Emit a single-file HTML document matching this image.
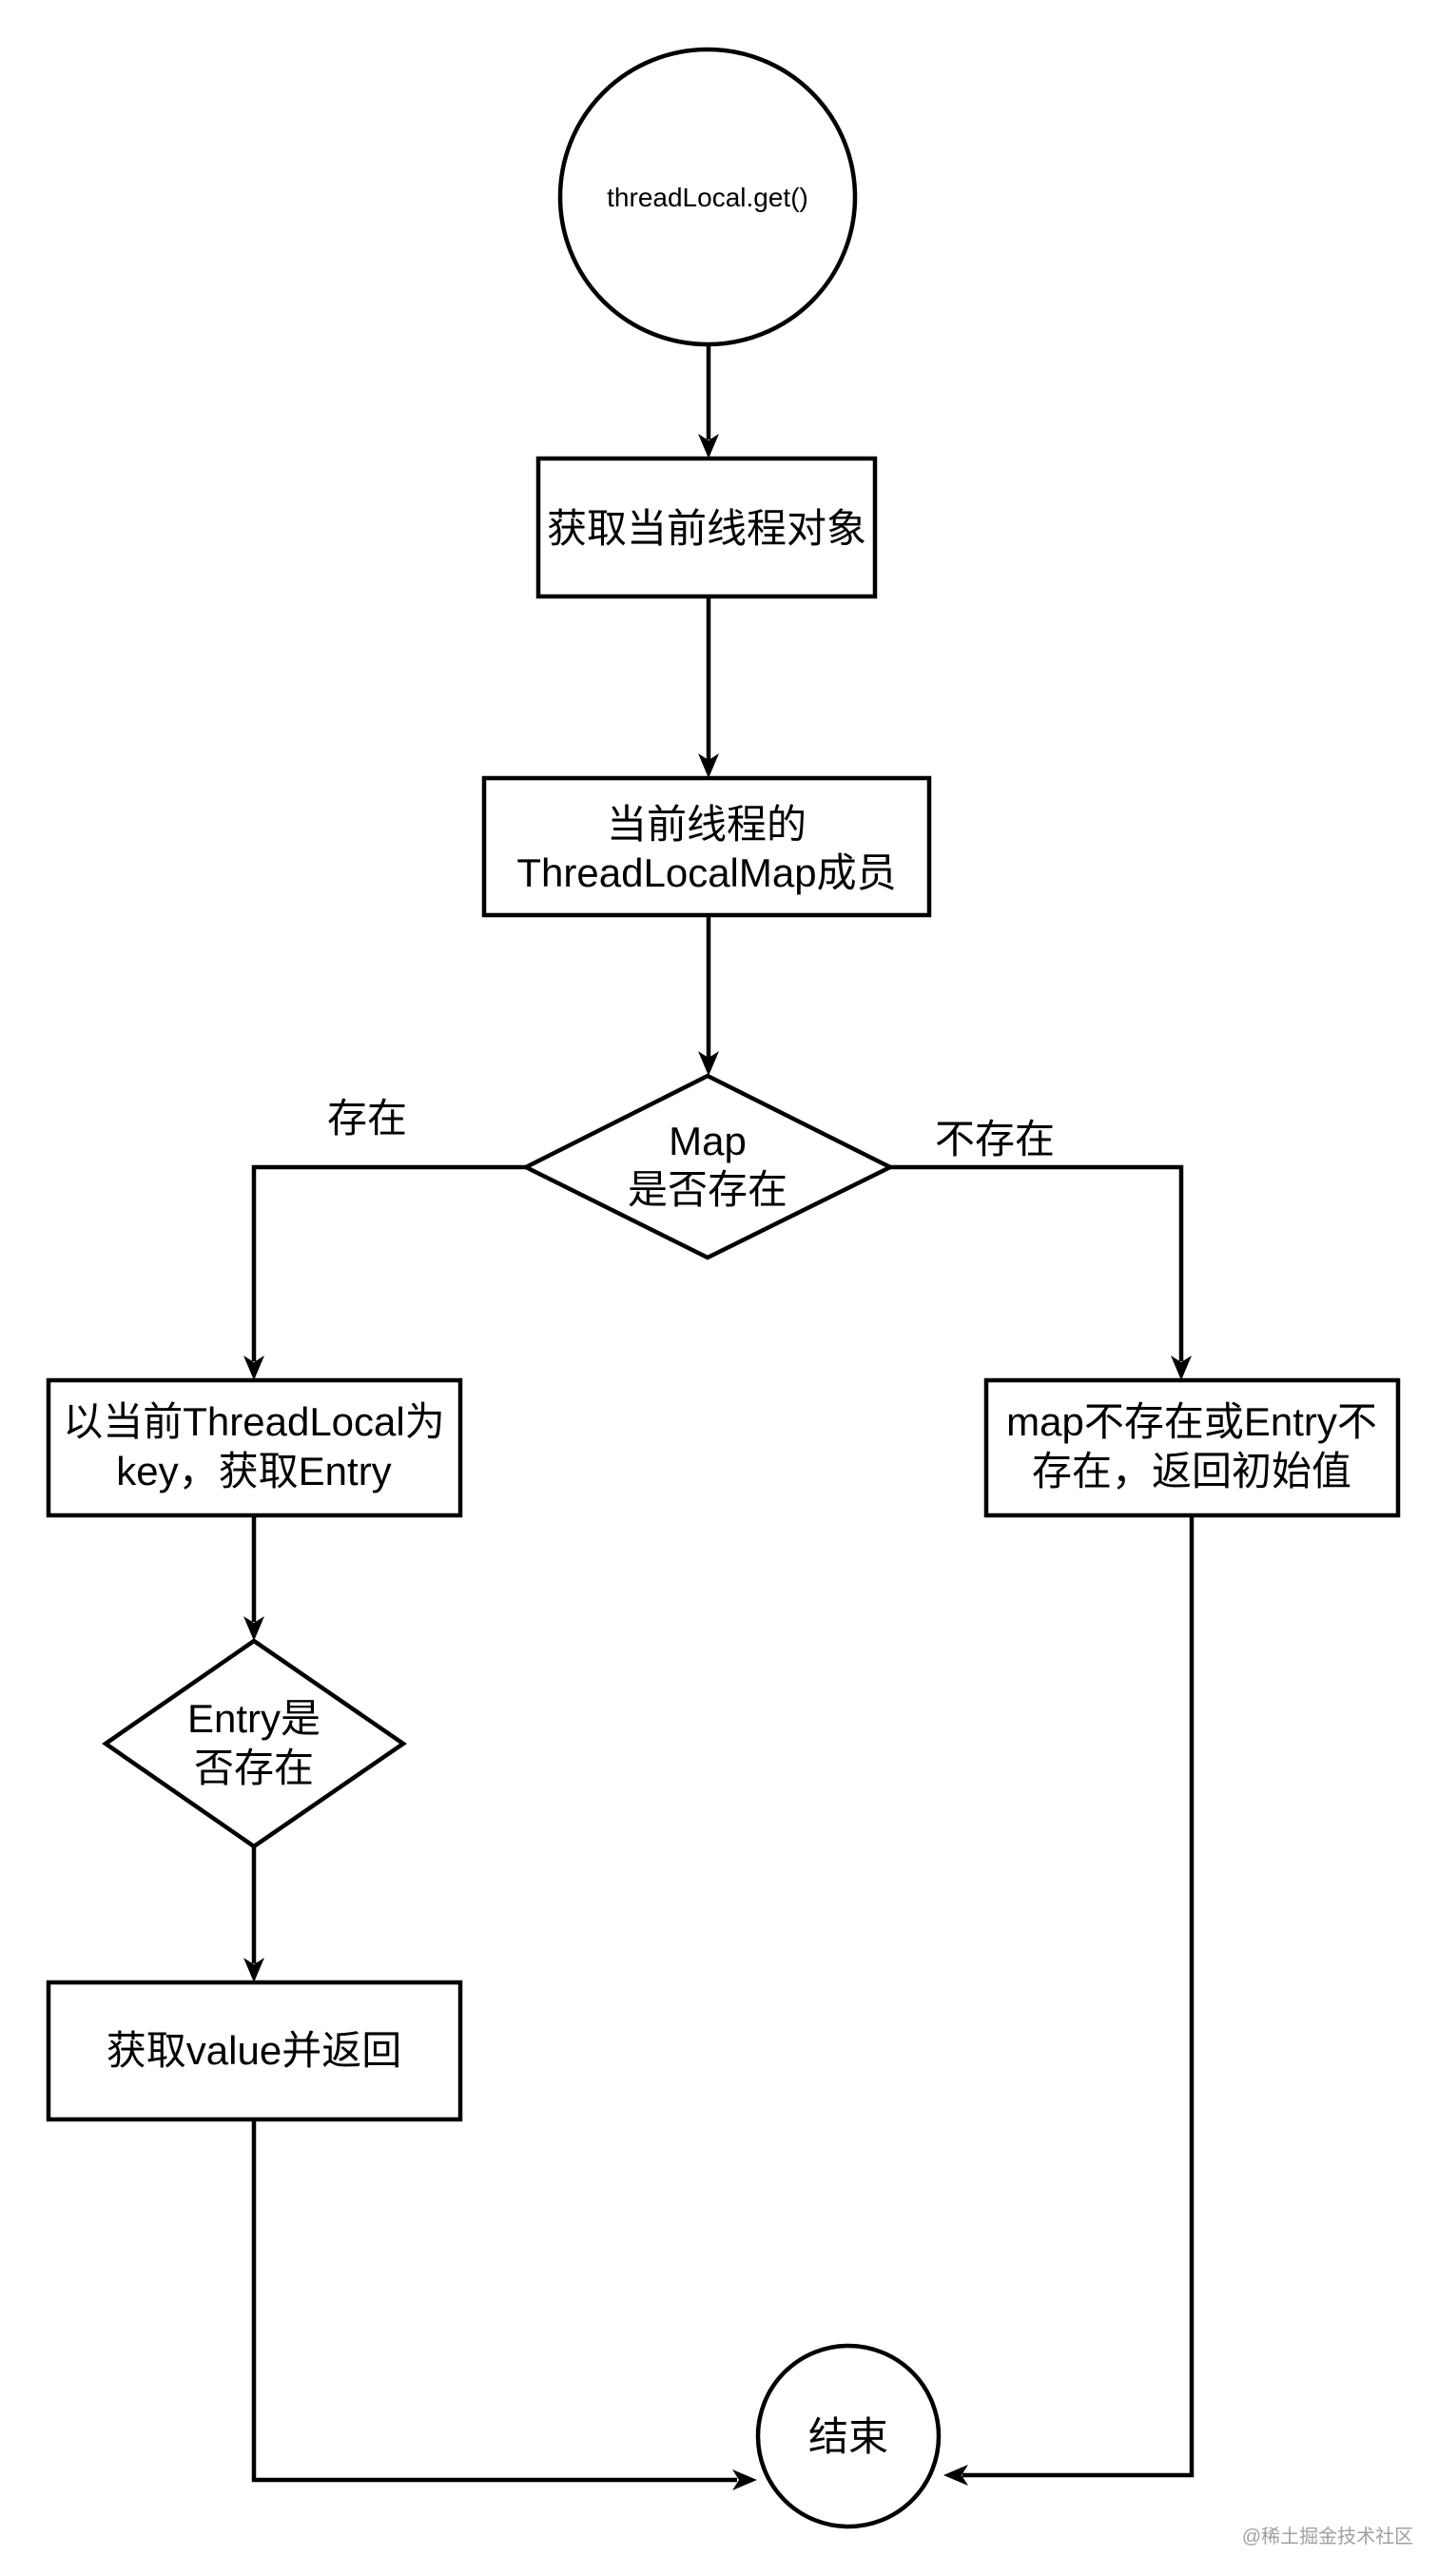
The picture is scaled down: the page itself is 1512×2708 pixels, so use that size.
<!DOCTYPE html>
<html><head><meta charset="utf-8"><style>
html,body{margin:0;padding:0;background:#fff;}
svg{display:block;}
text{font-family:"Liberation Sans","Noto Sans CJK SC",sans-serif;fill:#000;}
</style></head><body>
<svg width="1512" height="2708" viewBox="0 0 1512 2708" xmlns="http://www.w3.org/2000/svg">
<g stroke="#000" stroke-width="4.5" fill="none">
<circle cx="744" cy="207" r="155"/>
<line x1="745" y1="362" x2="745" y2="462"/>
<rect x="566" y="482" width="354" height="145"/>
<line x1="745" y1="627" x2="745" y2="800"/>
<rect x="509" y="818" width="468" height="144"/>
<line x1="745" y1="962" x2="745" y2="1112"/>
<polygon points="744,1131 936,1227 744,1322 553,1227"/>
<polyline points="553,1227 267,1227 267,1431"/>
<polyline points="936,1227 1242,1227 1242,1431"/>
<rect x="51" y="1451" width="433" height="142"/>
<rect x="1037" y="1451" width="433" height="142"/>
<line x1="267" y1="1593" x2="267" y2="1705"/>
<polygon points="267,1725 424,1833 267,1941 111,1833"/>
<line x1="267" y1="1941" x2="267" y2="2064"/>
<rect x="51" y="2084" width="433" height="144"/>
<polyline points="267,2228 267,2607 775,2607"/>
<polyline points="1253,1593 1253,2602 1012,2602"/>
<circle cx="892" cy="2561" r="95"/>
</g>
<g fill="#000">
<polygon points="745,482 734,456 745,463 756,456"/>
<polygon points="745,818 734,792 745,799 756,792"/>
<polygon points="745,1131 734,1105 745,1112 756,1105"/>
<polygon points="267,1451 256,1425 267,1432 278,1425"/>
<polygon points="1242,1451 1231,1425 1242,1432 1253,1425"/>
<polygon points="267,1725 256,1699 267,1706 278,1699"/>
<polygon points="267,2084 256,2058 267,2065 278,2058"/>
<polygon points="796,2607 770,2596 777,2607 770,2618"/>
<polygon points="992,2602 1018,2591 1011,2602 1018,2613"/>
</g>
<g text-anchor="middle" font-size="42">
<text x="744" y="217" font-size="28">threadLocal.get()</text>
<text x="743" y="570">获取当前线程对象</text>
<text x="743" y="881">当前线程的</text>
<text x="743" y="932">ThreadLocalMap成员</text>
<text x="744" y="1214">Map</text>
<text x="744" y="1265">是否存在</text>
<text x="386" y="1190">存在</text>
<text x="1046" y="1212">不存在</text>
<text x="267" y="1509">以当前ThreadLocal为</text>
<text x="267" y="1561">key，获取Entry</text>
<text x="1253" y="1509">map不存在或Entry不</text>
<text x="1253" y="1561">存在，返回初始值</text>
<text x="267" y="1821">Entry是</text>
<text x="267" y="1873">否存在</text>
<text x="267" y="2170">获取value并返回</text>
<text x="892" y="2576">结束</text>
<text x="1396" y="2673" font-size="20" style="fill:#a0a0a0">@稀土掘金技术社区</text>
</g>
</svg>
</body></html>
